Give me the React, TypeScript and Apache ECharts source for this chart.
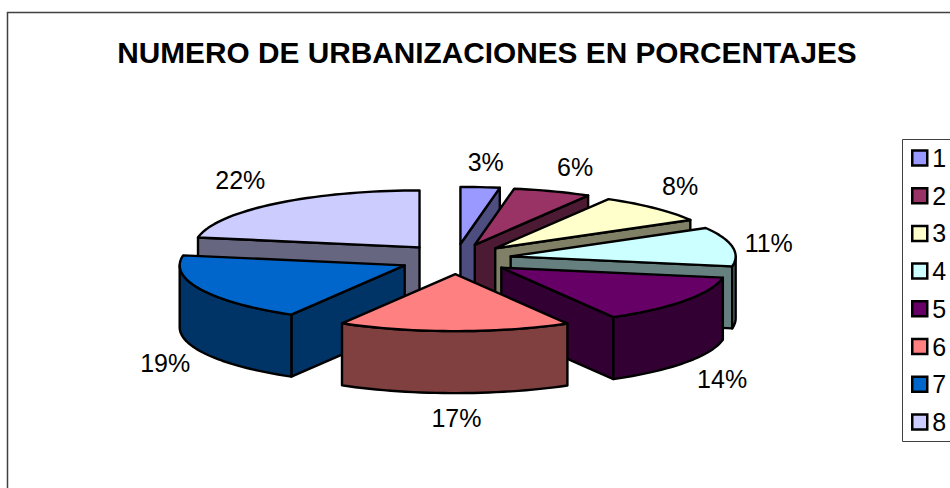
import React, { useEffect, useRef } from "react";
import * as echarts from "echarts";

const titleText = "NUMERO DE URBANIZACIONES EN PORCENTAJES";
const categories = ["1", "2", "3", "4", "5", "6", "7", "8"];
const percentages = [2.8, 5.6, 8.3, 11.1, 13.9, 16.7, 19.4, 22.2];
const topColors = ["#9999FF", "#993366", "#FFFFCC", "#CCFFFF", "#660066", "#FF8080", "#0066CC", "#CCCCFF"];
const sideColors = ["#4D4D80", "#4D1A33", "#808066", "#668080", "#330033", "#804040", "#003366", "#666680"];
// back-to-front painting order of the slices
const paintOrder = [0, 1, 2, 7, 3, 6, 4, 5];
const labelNudges = [[2, 3], [9, 2], [-3, -2], [-3, 1], [4, 0], [2, -3], [1, 0], [-9, -2]];

const CX = 455.5, CY = 259, RX = 225, RY = 57, EXPLODE = 56, K = 0.27, DEPTH = 62;
const LINE = 2.4;
const FONT = "'Liberation Sans', Arial, sans-serif";
const total = percentages.reduce((a, b) => a + b, 0);
const rad = (d: number) => (d * Math.PI) / 180;

function sliceShape(index: number, value: number) {
  const before = percentages.slice(0, index).reduce((a, b) => a + b, 0);
  const a1 = (before / total) * 360;
  const a2 = ((before + value) / total) * 360;
  const mid = (a1 + a2) / 2;
  const tx = CX + EXPLODE * Math.sin(rad(mid));
  const ty = CY - EXPLODE * K * Math.cos(rad(mid));
  const rim = (a: number, dy = 0): number[] => [
    tx + RX * Math.sin(rad(a)),
    ty - RY * Math.cos(rad(a)) + dy,
  ];
  const arc = (from: number, to: number, dy = 0) => {
    const n = Math.max(2, Math.ceil((to - from) / 2));
    const pts: number[][] = [];
    for (let i = 0; i <= n; i++) pts.push(rim(from + ((to - from) * i) / n, dy));
    return pts;
  };
  return { a1, a2, mid, tx, ty, rim, arc };
}

function renderSlice(index: number, api: any) {
  const value = api.value(0) as number;
  const { a1, a2, mid, tx, ty, rim, arc } = sliceShape(index, value);
  const side = sideColors[index];
  const style = (fill: string) => ({ fill, stroke: "#000", lineWidth: LINE, lineJoin: "round" });
  const children: any[] = [];
  const wall = (a: number) => ({
    type: "polygon",
    shape: { points: [[tx, ty], rim(a), rim(a, DEPTH), [tx, ty + DEPTH]] },
    style: style(side),
  });
  if (Math.sin(rad(a1)) < 0) children.push(wall(a1));
  if (Math.sin(rad(a2)) > 0.001) children.push(wall(a2));
  const f = Math.max(a1, 90);
  const t = Math.min(a2, 270);
  if (t > f) {
    const top = arc(f, t);
    const bottom = arc(f, t, DEPTH).reverse();
    children.push({ type: "polygon", shape: { points: [...top, ...bottom] }, style: style(side) });
  }
  children.push({
    type: "polygon",
    shape: { points: [[tx, ty], ...arc(a1, a2)] },
    style: style(topColors[index]),
  });
  const cosMid = Math.cos(rad(mid));
  const [nx, ny] = labelNudges[index];
  children.push({
    type: "text",
    style: {
      text: `${Math.round(value)}%`,
      x: tx + 265 * Math.sin(rad(mid)) + nx,
      y: ty - 85 * cosMid + (cosMid < 0 ? DEPTH : 0) + ny,
      align: "center",
      verticalAlign: "middle",
      fontSize: 25,
      fontFamily: FONT,
      fill: "#000",
    },
  });
  return { type: "group", children };
}

export default function App() {
  const ref = useRef<HTMLDivElement>(null);
  useEffect(() => {
    document.body.style.margin = "0";
    const chart = echarts.init(ref.current!, undefined, { renderer: "svg" });
    chart.setOption({
      animation: false,
      backgroundColor: "#fff",
      title: {
        text: titleText,
        left: 482,
        top: 32,
        textAlign: "center",
        textStyle: { fontFamily: FONT, fontWeight: "bold", fontSize: 29.8, color: "#000" },
      },
      legend: {
        orient: "vertical",
        left: 911,
        top: 145.5,
        padding: 0,
        itemWidth: 15,
        itemHeight: 15,
        itemGap: 12.7,
        icon: "rect",
        selectedMode: false,
        textStyle: { fontFamily: FONT, fontSize: 25, color: "#000" },
        data: categories.map((name) => ({
          name,
          itemStyle: { borderColor: "#000", borderWidth: 2.5 },
        })),
      },
      graphic: [
        {
          type: "rect",
          z: -1,
          shape: { x: 7.5, y: 12.5, width: 1000, height: 600 },
          style: { fill: "#fff", stroke: "#404040", lineWidth: 1.5 },
        },
        {
          type: "rect",
          z: -1,
          shape: { x: 902.5, y: 139.5, width: 100, height: 302 },
          style: { fill: "#fff", stroke: "#404040", lineWidth: 1 },
        },
      ],
      series: paintOrder.map((i) => ({
        type: "custom",
        name: categories[i],
        coordinateSystem: "none",
        silent: true,
        itemStyle: { color: topColors[i] },
        data: [[percentages[i]]],
        renderItem: (_p: any, api: any) => renderSlice(i, api),
      })),
    });
    return () => chart.dispose();
  }, []);
  return <div ref={ref} style={{ width: 950, height: 488 }} />;
}
